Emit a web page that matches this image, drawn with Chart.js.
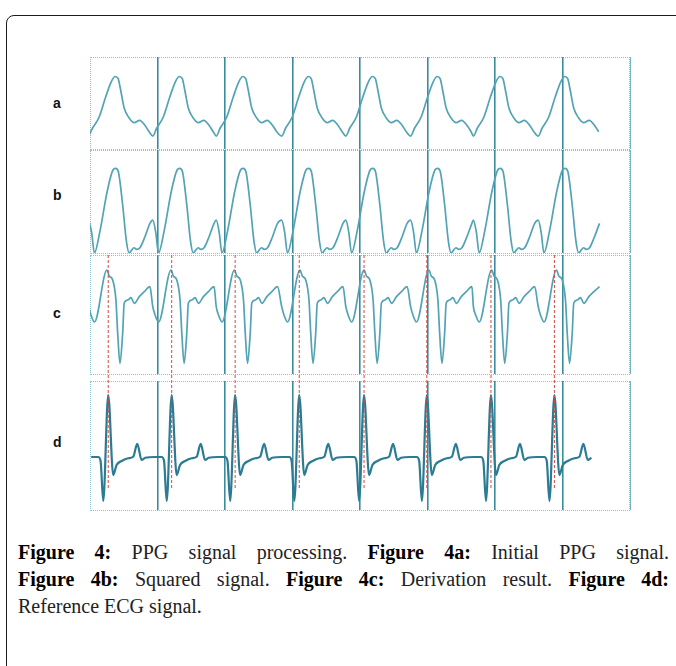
<!DOCTYPE html>
<html>
<head>
<meta charset="utf-8">
<script src="https://cdn.jsdelivr.net/npm/chart.js@4.4.0/dist/chart.umd.min.js"></script>
<style>
  html, body { margin: 0; padding: 0; background: #fff; }
  body { width: 676px; height: 666px; position: relative; overflow: hidden; }
  .frame { position: absolute; left: 6px; top: 15px; width: 720px; height: 720px;
           border: 1.5px solid #1c1c1c; border-radius: 8px; box-sizing: border-box; }
  .panel { position: absolute; left: 90px; width: 540px; border: 1px dotted #8cc5d1; box-sizing: border-box; }
  canvas { position: absolute; }
  .lbl { position: absolute; left: 53px; font: bold 14px "Liberation Sans", Arial, sans-serif; color: #111; }
  .caption { position: absolute; left: 18px; top: 539px; width: 651px;
             font: 20px "Liberation Serif", "Times New Roman", serif; color: #222; line-height: 27px; }
  .caption div { white-space: nowrap; text-align: justify; text-align-last: justify; }
  .caption div.last { text-align-last: left; }
  .caption b { color: #000; }
</style>
</head>
<body>
<div class="frame"></div>

<div class="panel" style="top:57px;height:93px"></div>
<div class="panel" style="top:150px;height:104px"></div>
<div class="panel" style="top:255px;height:120px"></div>
<div class="panel" style="top:381px;height:130px"></div>

<canvas id="chartA"></canvas>
<canvas id="chartB"></canvas>
<canvas id="chartC"></canvas>
<canvas id="chartD"></canvas>
<canvas id="chartMarks"></canvas>

<div class="lbl" style="top:95px">a</div>
<div class="lbl" style="top:187px">b</div>
<div class="lbl" style="top:305px">c</div>
<div class="lbl" style="top:434px">d</div>

<div class="caption">
  <div><b>Figure 4:</b> PPG signal processing. <b>Figure 4a:</b> Initial PPG signal.</div>
  <div><b>Figure 4b:</b> Squared signal. <b>Figure 4c:</b> Derivation result. <b>Figure 4d:</b></div>
  <div class="last">Reference ECG signal.</div>
</div>

<script>
// time axis in seconds, one dark grid line per second
const timeTicks = [0, 1, 2, 3, 4, 5, 6, 7, 8];

// foot of each PPG pulse (s) and where the recording stops
const ppgOnsets = [-0.02, 0.93, 1.87, 2.84, 3.79, 4.75, 5.68, 6.64];
const ppgEnd = 7.56;

// ECG R peaks (s) - also where the red markers go
const rPeaks = [0.27, 1.21, 2.15, 3.10, 4.06, 4.99, 5.94, 6.88];
const ecgEnd = 7.53;

// one beat of each trace: [seconds from onset, level 0-100 of the panel]
const beatPPG = [
  [0.000, 14.1], [0.059, 22.8], [0.156, 34.8], [0.252, 56.5], [0.333, 72.8],
  [0.393, 78.8], [0.437, 76.6], [0.474, 64.1], [0.526, 44.6], [0.600, 33.7],
  [0.674, 28.6], [0.756, 31.2], [0.830, 26.1], [0.896, 18.8]
];
const beatSquared = [
  [0.000, 32.0], [0.044, 20.0], [0.085, 0.0], [0.170, 22.0], [0.275, 60.0],
  [0.360, 80.6], [0.400, 82.2], [0.440, 78.9], [0.504, 46.6], [0.560, 11.0],
  [0.600, 0.0], [0.637, 2.9], [0.671, 5.1], [0.711, 3.6], [0.760, 5.1],
  [0.834, 15.8], [0.908, 28.8]
];
const beatDerivative = [
  [0.000, 56.6], [0.034, 49.6], [0.086, 43.7], [0.271, 87.4], [0.305, 82.4],
  [0.356, 79.0], [0.404, 62.2], [0.430, 34.5], [0.464, 9.0], [0.504, 34.5],
  [0.527, 59.7], [0.578, 62.2], [0.627, 64.1], [0.676, 59.4], [0.750, 65.0],
  [0.824, 69.2], [0.908, 73.4]
];
// ECG beat is relative to its R peak
const beatECG = [
  [-0.252, 41.1], [-0.148, 41.1], [-0.113, 38.0], [-0.074, 7.0], [0.000, 89.1],
  [0.074, 27.1], [0.124, 34.9], [0.199, 38.0], [0.296, 40.1], [0.370, 41.3],
  [0.430, 51.2], [0.495, 38.8], [0.548, 40.5]
];

// colours
const traceColor = '#52a3b5';
const ecgColor = '#2b7b93';
const gridDark = '#3a8b9e';
const gridEdge = '#74b4c3';
const markColor = '#d9473f';

function buildTrace(times, beat, end) {
  const pts = [];
  times.forEach(function(t0) {
    beat.forEach(function(p) {
      const x = t0 + p[0];
      if (x >= -0.1 && x <= end) pts.push({ x: x, y: p[1] });
    });
  });
  return pts;
}

const plotLeft = 90;
const plotWidth = 540;
const pad = 3;

function xScale(showGrid) {
  return {
    type: 'linear',
    min: timeTicks[0],
    max: timeTicks[timeTicks.length - 1],
    afterBuildTicks: function(scale) {
      scale.ticks = timeTicks.map(function(v) { return { value: v }; });
    },
    ticks: { display: false },
    border: { display: false },
    grid: {
      display: showGrid,
      drawTicks: false,
      color: function(ctx) {
        const v = ctx.tick.value;
        if (v === timeTicks[0]) return 'rgba(0,0,0,0)';
        if (v === timeTicks[timeTicks.length - 1]) return gridEdge;
        return gridDark;
      },
      lineWidth: function(ctx) {
        const v = ctx.tick.value;
        return (v === timeTicks[0] || v === timeTicks[timeTicks.length - 1]) ? 1 : 1.6;
      }
    }
  };
}

function makePanel(id, top, height, points, color, width) {
  const cv = document.getElementById(id);
  cv.width = plotWidth + 2 * pad;
  cv.height = height + 2 * pad;
  cv.style.left = (plotLeft - pad) + 'px';
  cv.style.top = (top - pad) + 'px';
  return new Chart(cv, {
    type: 'line',
    data: {
      datasets: [{
        data: points,
        borderColor: color,
        borderWidth: width,
        pointRadius: 0,
        fill: false,
        cubicInterpolationMode: 'monotone'
      }]
    },
    options: {
      responsive: false,
      animation: false,
      events: [],
      layout: { padding: pad },
      plugins: { legend: { display: false }, tooltip: { enabled: false } },
      scales: {
        x: xScale(true),
        y: { min: 0, max: 100, display: false }
      }
    }
  });
}

makePanel('chartA', 57, 92, buildTrace(ppgOnsets, beatPPG, ppgEnd), traceColor, 1.7);
makePanel('chartB', 150, 103, buildTrace(ppgOnsets, beatSquared, ppgEnd), traceColor, 1.7);
makePanel('chartC', 255, 119, buildTrace(ppgOnsets, beatDerivative, ppgEnd), traceColor, 1.7);
makePanel('chartD', 381, 129, buildTrace(rPeaks, beatECG, ecgEnd), ecgColor, 2.2);

// red dashed R-peak markers running down through panels c and d
const markPoints = [];
rPeaks.forEach(function(r) {
  markPoints.push({ x: r, y: 0 }, { x: r, y: 1 }, { x: r, y: null });
});
(function() {
  const cv = document.getElementById('chartMarks');
  const top = 255, height = 233;
  cv.width = plotWidth + 2 * pad;
  cv.height = height + 2 * pad;
  cv.style.left = (plotLeft - pad) + 'px';
  cv.style.top = (top - pad) + 'px';
  new Chart(cv, {
    type: 'line',
    data: {
      datasets: [{
        data: markPoints,
        borderColor: markColor,
        borderWidth: 1,
        borderDash: [3, 2],
        pointRadius: 0,
        spanGaps: false
      }]
    },
    options: {
      responsive: false,
      animation: false,
      events: [],
      layout: { padding: pad },
      plugins: { legend: { display: false }, tooltip: { enabled: false } },
      scales: {
        x: xScale(false),
        y: { min: 0, max: 1, display: false }
      }
    }
  });
})();
</script>
</body>
</html>
